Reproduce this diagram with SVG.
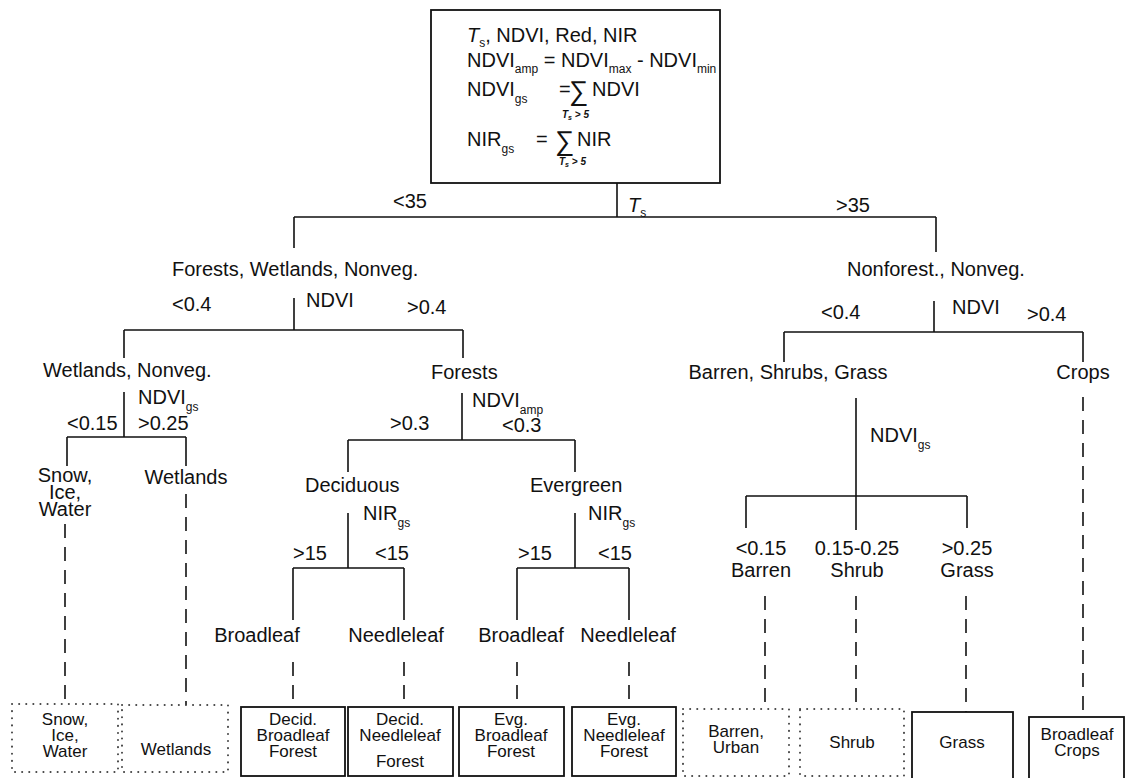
<svg xmlns="http://www.w3.org/2000/svg" width="1126" height="778" viewBox="0 0 1126 778">
<style>
text{font-family:"Liberation Sans",Arial,sans-serif;font-size:20px;fill:#111}
.s{font-size:12px}
.ss{font-size:10px;font-style:italic;font-weight:bold}
.m{text-anchor:middle}
.b{font-size:17px}
.ln{stroke:#111;stroke-width:1.6;fill:none}
.dash{stroke:#111;stroke-width:1.6;fill:none;stroke-dasharray:14 9}
.box{fill:none;stroke:#111;stroke-width:1.8}
.dot{fill:none;stroke:#444;stroke-width:2;stroke-dasharray:0.1 7;stroke-linecap:round}
</style>
<rect width="1126" height="778" fill="#fff"/>

<g id="root">
<rect class="box" x="431" y="10" width="289" height="173"/>
<text x="467" y="42"><tspan font-style="italic">T</tspan><tspan class="s" dy="5">s</tspan><tspan dy="-5">, NDVI, Red, NIR</tspan></text>
<text x="467" y="67">NDVI<tspan class="s" dy="6">amp</tspan><tspan dy="-6"> = NDVI</tspan><tspan class="s" dy="6">max</tspan><tspan dy="-6"> - NDVI</tspan><tspan class="s" dy="6">min</tspan></text>
<text x="467" y="96">NDVI<tspan class="s" dy="7">gs</tspan></text>
<text x="559" y="96">=</text>
<text x="569" y="100" style="font-size:27px">∑</text>
<text x="592" y="96">NDVI</text>
<text x="562" y="118" class="ss">T<tspan dy="2" style="font-size:7px">s</tspan><tspan dy="-2"> &gt; 5</tspan></text>
<text x="467" y="146">NIR<tspan class="s" dy="7">gs</tspan></text>
<text x="536" y="146">=</text>
<text x="555" y="150" style="font-size:27px">∑</text>
<text x="577" y="146">NIR</text>
<text x="559" y="165" class="ss">T<tspan dy="2" style="font-size:7px">s</tspan><tspan dy="-2"> &gt; 5</tspan></text>
</g>

<g id="connectors">
<path class="ln" d="M617,183V217M294,217H936M294,217V248M936,217V252"/>
<path class="ln" d="M294,298V330M124,330H463M124,330V358M463,330V358"/>
<path class="ln" d="M124,392V437M67,437H186M67,437V466M186,437V466"/>
<path class="ln" d="M462,393V440M348,440H575M348,440V472M575,440V472"/>
<path class="ln" d="M348,513V568M293,568H404M293,568V620M404,568V620"/>
<path class="ln" d="M575,513V568M517,568H629M517,568V620M629,568V620"/>
<path class="ln" d="M934,301V332M784,332H1083M784,332V362M1083,332V362"/>
<path class="ln" d="M856,398V496M746,496H967M746,496V528M856,496V530M967,496V528"/>
<path class="dash" d="M65,524V704M186,494V705"/>
<path class="dash" d="M293,662V707M404,662V707M517,662V707M629,662V707"/>
<path class="dash" d="M765,596V709M856,596V709M966,596V712M1083,397V717"/>
</g>

<g id="split-labels">
<text x="393" y="208">&lt;35</text>
<text x="628" y="212"><tspan font-style="italic">T</tspan><tspan class="s" dy="5">s</tspan></text>
<text x="836" y="212">&gt;35</text>
<text x="172" y="311">&lt;0.4</text>
<text x="306" y="307">NDVI</text>
<text x="407" y="314">&gt;0.4</text>
<text x="821" y="319">&lt;0.4</text>
<text x="952" y="314">NDVI</text>
<text x="1027" y="321">&gt;0.4</text>
<text x="138" y="404">NDVI<tspan class="s" dy="7">gs</tspan></text>
<text x="67" y="430">&lt;0.15</text>
<text x="138" y="430">&gt;0.25</text>
<text x="472" y="407">NDVI<tspan class="s" dy="7">amp</tspan></text>
<text x="390" y="430">&gt;0.3</text>
<text x="502" y="432">&lt;0.3</text>
<text x="363" y="520">NIR<tspan class="s" dy="7">gs</tspan></text>
<text x="293" y="560">&gt;15</text>
<text x="375" y="560">&lt;15</text>
<text x="588" y="520">NIR<tspan class="s" dy="7">gs</tspan></text>
<text x="518" y="560">&gt;15</text>
<text x="598" y="560">&lt;15</text>
<text x="870" y="442">NDVI<tspan class="s" dy="7">gs</tspan></text>
</g>

<g id="n-forests-wetlands-nonveg"><text x="172" y="276">Forests, Wetlands, Nonveg.</text></g>
<g id="n-nonforest-nonveg"><text x="847" y="276">Nonforest., Nonveg.</text></g>
<g id="n-wetlands-nonveg"><text x="43" y="377">Wetlands, Nonveg.</text></g>
<g id="n-forests"><text x="431" y="379">Forests</text></g>
<g id="n-barren-shrubs-grass"><text class="m" x="788" y="379">Barren, Shrubs, Grass</text></g>
<g id="n-crops"><text class="m" x="1083" y="379">Crops</text></g>
<g id="n-snow"><text class="m" x="65" y="482">Snow,</text><text class="m" x="65" y="499">Ice,</text><text class="m" x="65" y="516">Water</text></g>
<g id="n-wetlands"><text class="m" x="186" y="484">Wetlands</text></g>
<g id="n-deciduous"><text x="305" y="492">Deciduous</text></g>
<g id="n-evergreen"><text x="530" y="492">Evergreen</text></g>
<g id="n-broadleaf1"><text class="m" x="257" y="642">Broadleaf</text></g>
<g id="n-needleleaf1"><text class="m" x="396" y="642">Needleleaf</text></g>
<g id="n-broadleaf2"><text class="m" x="521" y="642">Broadleaf</text></g>
<g id="n-needleleaf2"><text class="m" x="628" y="642">Needleleaf</text></g>
<g id="n-barren"><text class="m" x="761" y="555">&lt;0.15</text><text class="m" x="761" y="577">Barren</text></g>
<g id="n-shrub"><text class="m" x="857" y="555">0.15-0.25</text><text class="m" x="857" y="577">Shrub</text></g>
<g id="n-grass"><text class="m" x="967" y="555">&gt;0.25</text><text class="m" x="967" y="577">Grass</text></g>

<g id="c-snow"><rect class="dot" x="12" y="704" width="106" height="68"/><text class="m b" x="65" y="725">Snow,</text><text class="m b" x="65" y="741">Ice,</text><text class="m b" x="65" y="757">Water</text></g>
<g id="c-wetlands"><rect class="dot" x="122" y="705" width="106" height="67"/><text class="m b" x="176" y="755">Wetlands</text></g>
<g id="c-decid-broadleaf"><rect class="box" x="241" y="707" width="104" height="69"/><text class="m b" x="293" y="725">Decid.</text><text class="m b" x="293" y="741">Broadleaf</text><text class="m b" x="293" y="757">Forest</text></g>
<g id="c-decid-needleleaf"><rect class="box" x="348" y="707" width="105" height="69"/><text class="m b" x="400" y="725">Decid.</text><text class="m b" x="400" y="741">Needleleaf</text><text class="m b" x="400" y="767">Forest</text></g>
<g id="c-evg-broadleaf"><rect class="box" x="459" y="707" width="105" height="69"/><text class="m b" x="511" y="725">Evg.</text><text class="m b" x="511" y="741">Broadleaf</text><text class="m b" x="511" y="757">Forest</text></g>
<g id="c-evg-needleleaf"><rect class="box" x="572" y="707" width="104" height="69"/><text class="m b" x="624" y="725">Evg.</text><text class="m b" x="624" y="741">Needleleaf</text><text class="m b" x="624" y="757">Forest</text></g>
<g id="c-barren-urban"><rect class="dot" x="683" y="709" width="106" height="67"/><text class="m b" x="736" y="737">Barren,</text><text class="m b" x="736" y="753">Urban</text></g>
<g id="c-shrub"><rect class="dot" x="800" y="709" width="104" height="67"/><text class="m b" x="852" y="748">Shrub</text></g>
<g id="c-grass"><rect class="box" x="912" y="712" width="101" height="70"/><text class="m b" x="962" y="748">Grass</text></g>
<g id="c-crops"><rect class="box" x="1029" y="717" width="95" height="65"/><text class="m b" x="1077" y="740">Broadleaf</text><text class="m b" x="1077" y="756">Crops</text></g>
</svg>
